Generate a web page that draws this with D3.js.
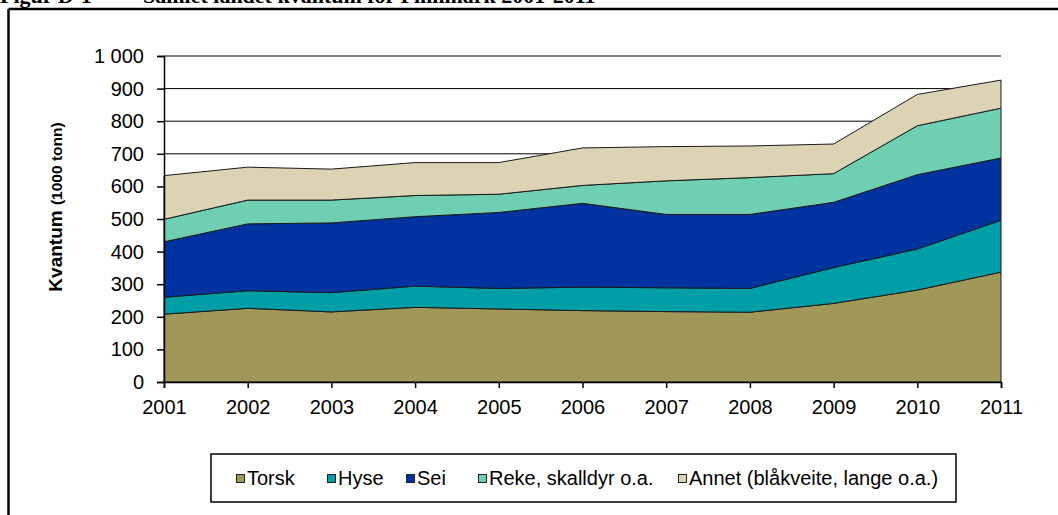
<!DOCTYPE html>
<html><head><meta charset="utf-8">
<script src="https://cdn.jsdelivr.net/npm/d3@7/dist/d3.min.js"></script>
<style>html,body{margin:0;padding:0;background:#fff;overflow:hidden}</style>
</head><body><svg id="c" width="1058" height="515"></svg>
<script>
const years = ["2001","2002","2003","2004","2005","2006","2007","2008","2009","2010","2011"];
const seriesNames = ["Torsk","Hyse","Sei","Reke, skalldyr o.a.","Annet (blåkveite, lange o.a.)"];
const torsk = [208,226,215,229,224,219,216,214,241,282,337];
const hyse  = [52,54,59,65,63,72,73,73,110,126,159];
const sei   = [170,205,214,213,233,257,225,227,200,228,191];
const reke  = [69,73,70,65,56,55,103,113,88,150,153];
const annet = [134,101,95,101,97,115,105,97,91,96,86];
const yTicks = [0,100,200,300,400,500,600,700,800,900,1000];
const colors = ["#a09858","#009ea6","#0033a0","#6ecfb2","#dbd3b3"];

const svg = d3.select("#c");
const font = "Arial, 'Liberation Sans', sans-serif";

// frame and cropped caption
svg.append("line").attr("x1",8.5).attr("x2",1058).attr("y1",9).attr("y2",9).attr("stroke","#000").attr("stroke-width",2.5);
svg.append("line").attr("x1",8.5).attr("x2",8.5).attr("y1",9).attr("y2",515).attr("stroke","#000").attr("stroke-width",2.5);
const serif = "'Liberation Serif', 'Times New Roman', serif";
svg.append("text").attr("x",0).attr("y",3).attr("font-family",serif).attr("font-weight","bold").attr("font-size",22).text("Figur D-1");
svg.append("text").attr("x",143).attr("y",3).attr("font-family",serif).attr("font-weight","bold").attr("font-size",22).text("Samlet landet kvantum for Finnmark 2001-2011");

const x = d3.scalePoint().domain(years).range([164,1001]);
const y = d3.scaleLinear().domain([0,1000]).range([382,56]);

// gridlines
svg.append("g").selectAll("line").data(yTicks.filter(d=>d>0)).join("line")
  .attr("x1",164).attr("x2",1001).attr("y1",d=>y(d)).attr("y2",d=>y(d))
  .attr("stroke","#000").attr("stroke-width",1);

const rows = years.map((yr,i)=>({year:yr, s0:torsk[i], s1:hyse[i], s2:sei[i], s3:reke[i], s4:annet[i]}));
const stack = d3.stack().keys(["s0","s1","s2","s3","s4"]);
const layers = stack(rows);
const area = d3.area().x(d=>x(d.data.year)).y0(d=>y(d[0])).y1(d=>y(d[1]));
svg.append("g").selectAll("path").data(layers).join("path")
  .attr("d",area).attr("fill",(d,i)=>colors[i]).attr("stroke","#1a1a1a").attr("stroke-width",1).attr("stroke-linejoin","round");

// axes
const ya = svg.append("g").attr("transform","translate(164,0)")
  .call(d3.axisLeft(y).tickValues(yTicks).tickSize(7).tickPadding(13).tickFormat(d=>d3.format(",")(d).replace(","," ")));
const xa = svg.append("g").attr("transform","translate(0,382)")
  .call(d3.axisBottom(x).tickSize(6).tickPadding(12));
[ya,xa].forEach(a=>{
  a.select(".domain").attr("stroke","#000").attr("stroke-width",1.5);
  a.selectAll(".tick line").attr("stroke","#000").attr("stroke-width",1.5);
  a.selectAll("text").attr("font-family",font).attr("font-size",20).attr("fill","#000");
});

// y title
const yt = svg.append("text").attr("transform","translate(62,207) rotate(-90)").attr("text-anchor","middle")
  .attr("font-family",font).attr("font-weight","bold").attr("fill","#000");
yt.append("tspan").attr("font-size",19).text("Kvantum ");
yt.append("tspan").attr("font-size",15.5).text("(1000 tonn)");

// legend
svg.append("rect").attr("x",211).attr("y",454).attr("width",745).attr("height",48).attr("fill","#fff").attr("stroke","#000").attr("stroke-width",1.5);
const legX = [236,327,406,478,678];
const lg = svg.append("g").selectAll("g").data(seriesNames).join("g").attr("transform",(d,i)=>`translate(${legX[i]},0)`);
lg.append("rect").attr("x",0.5).attr("y",474.5).attr("width",8).attr("height",8).attr("fill",(d,i)=>colors[i]).attr("stroke","#222").attr("stroke-width",1);
lg.append("text").attr("x",11).attr("y",485).attr("font-family",font).attr("font-size",20).attr("fill","#000").text(d=>d);
</script></body></html>
